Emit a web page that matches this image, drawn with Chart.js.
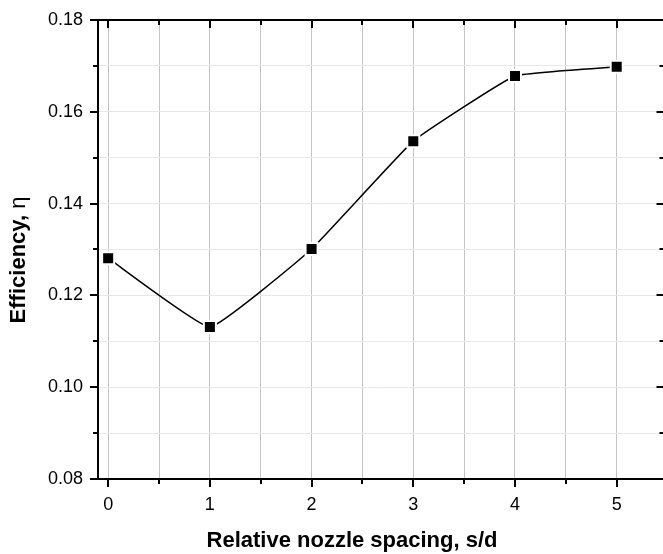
<!DOCTYPE html>
<html>
<head>
<meta charset="utf-8">
<script src="https://cdn.jsdelivr.net/npm/chart.js@4/dist/chart.umd.min.js"></script>
<style>
  html, body { margin: 0; padding: 0; background: #fff; overflow: hidden; }
</style>
</head>
<body>
<canvas id="myChart" width="675" height="554"></canvas>
<script>
// values
const spacing = [0, 1, 2, 3, 4, 5];
const efficiency = [0.1281, 0.1131, 0.1301, 0.1536, 0.1678, 0.1698];
const xTickValues = [0, 1, 2, 3, 4, 5];
const yTickValues = [0.08, 0.10, 0.12, 0.14, 0.16, 0.18];
const xTitle = 'Relative nozzle spacing, s/d';
const yTitle = 'Efficiency, ';
const yTitleSymbol = 'η';

const X_MIN = -0.1, X_MAX = 5.47;

const xMinor = [];
for (let i = 0; i < xTickValues.length; i++) {
  if (xTickValues[i] + 0.5 < X_MAX) xMinor.push(xTickValues[i] + 0.5);
}
const yMinor = [];
for (let i = 0; i < yTickValues.length - 1; i++) {
  yMinor.push(+(yTickValues[i] + 0.01).toFixed(2));
}

const FONT = 'Liberation Sans, Arial, sans-serif';

// frame + ticks like the origin plot (out on left/bottom, in on top/right)
const framePlugin = {
  id: 'frame',
  afterDatasetsDraw(chart) {
    const ctx = chart.ctx;
    const a = chart.chartArea;
    const xs = chart.scales.x;
    const ys = chart.scales.y;
    ctx.save();
    ctx.strokeStyle = '#000';
    ctx.lineWidth = 2;
    ctx.beginPath();
    ctx.moveTo(a.left, a.top); ctx.lineTo(a.right, a.top);
    ctx.moveTo(a.left, a.bottom); ctx.lineTo(a.right, a.bottom);
    ctx.moveTo(a.left, a.top - 1); ctx.lineTo(a.left, a.bottom + 1);
    ctx.moveTo(a.right, a.top - 1); ctx.lineTo(a.right, a.bottom + 1);
    ctx.stroke();

    function tickX(v, len) {
      const x = Math.round(xs.getPixelForValue(v));
      ctx.moveTo(x, a.bottom); ctx.lineTo(x, a.bottom + len);
      ctx.moveTo(x, a.top); ctx.lineTo(x, a.top + len);
    }
    function tickY(v, len) {
      const y = Math.round(ys.getPixelForValue(v));
      ctx.moveTo(a.left - len, y); ctx.lineTo(a.left, y);
      ctx.moveTo(a.right - len, y); ctx.lineTo(a.right, y);
    }
    ctx.beginPath();
    xTickValues.forEach(v => tickX(v, 8));
    xMinor.forEach(v => tickX(v, 5));
    yTickValues.forEach(v => tickY(v, 8));
    yMinor.forEach(v => tickY(v, 5));
    ctx.stroke();

    // axis titles
    ctx.fillStyle = '#000';
    ctx.textBaseline = 'alphabetic';
    ctx.font = 'bold 22px ' + FONT;
    ctx.textAlign = 'center';
    ctx.fillText(xTitle, 352, 547);

    ctx.translate(25, 260);
    ctx.rotate(-Math.PI / 2);
    ctx.font = 'bold 22px ' + FONT;
    const w1 = ctx.measureText(yTitle).width;
    ctx.font = '22px ' + FONT;
    const w2 = ctx.measureText(yTitleSymbol).width;
    const start = -(w1 + w2) / 2;
    ctx.textAlign = 'left';
    ctx.font = 'bold 22px ' + FONT;
    ctx.fillText(yTitle, start, 0);
    ctx.font = '22px ' + FONT;
    ctx.fillText(yTitleSymbol, start + w1, 0);
    ctx.restore();
  }
};

const data = {
  datasets: [{
    label: 'Efficiency',
    data: spacing.map((s, i) => ({ x: s, y: efficiency[i] })),
    borderColor: '#000',
    borderWidth: 1.5,
    tension: 0.1,
    pointStyle: 'rect',
    pointRadius: 8.5,
    pointBackgroundColor: '#000',
    pointBorderColor: '#fff',
    pointBorderWidth: 2,
    clip: false
  }]
};

const config = {
  type: 'line',
  data: data,
  options: {
    responsive: false,
    animation: false,
    devicePixelRatio: 1,
    layout: { padding: { top: 20, right: 0, left: 0, bottom: 0 } },
    plugins: { legend: { display: false }, tooltip: { enabled: false } },
    scales: {
      x: {
        type: 'linear',
        min: X_MIN,
        max: X_MAX,
        afterFit: function(scale) {
          scale.height = 75;
          scale.paddingLeft = 0;
          scale.paddingRight = 0;
        },
        afterBuildTicks: function(scale) {
          let t = xTickValues.concat(xMinor).sort((p, q) => p - q);
          scale.ticks = t.map(v => ({ value: v }));
        },
        ticks: {
          autoSkip: false,
          maxRotation: 0,
          padding: 15,
          color: '#000',
          font: { family: FONT, size: 18 },
          callback: function(v) { return Number.isInteger(v) ? String(v) : ''; }
        },
        grid: { color: '#c4c4c4', lineWidth: 1, drawTicks: false },
        border: { display: false },
        title: { display: false }
      },
      y: {
        type: 'linear',
        min: 0.08,
        max: 0.18,
        afterFit: function(scale) {
          scale.width = 98;
          scale.paddingTop = 0;
          scale.paddingBottom = 0;
        },
        afterBuildTicks: function(scale) {
          let t = yTickValues.concat(yMinor).sort((p, q) => p - q);
          scale.ticks = t.map(v => ({ value: v }));
        },
        ticks: {
          autoSkip: false,
          padding: 15,
          color: '#000',
          font: { family: FONT, size: 18 },
          callback: function(v) {
            return Math.round(v * 100) % 2 === 0 ? v.toFixed(2) : '';
          }
        },
        grid: { color: '#e8e8e8', lineWidth: 1, drawTicks: false },
        border: { display: false },
        title: { display: false }
      }
    }
  },
  plugins: [framePlugin]
};

const myChart = new Chart(document.getElementById('myChart'), config);
</script>
</body>
</html>
